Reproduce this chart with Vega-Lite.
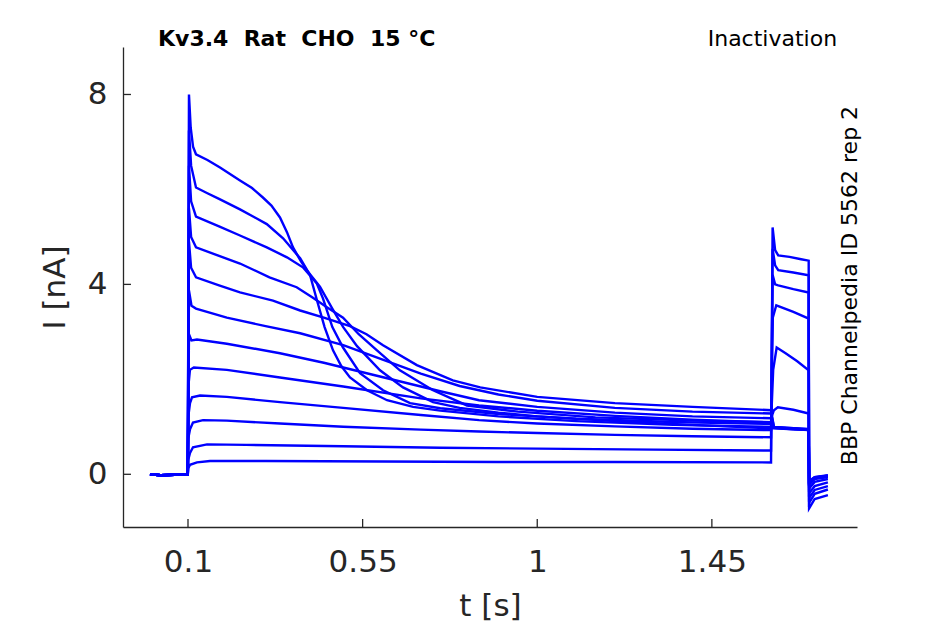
{
  "$schema": "https://vega.github.io/schema/vega-lite/v6.json",
  "width": 734,
  "height": 480,
  "autosize": {"type": "none"},
  "padding": {"left": 123, "top": 47, "right": 88, "bottom": 97},
  "background": "white",
  "config": {
    "view": {"stroke": null},
    "axis": {
      "grid": false,
      "ticks": false,
      "domainColor": "#262626",
      "domainWidth": 1.3,
      "labelColor": "#262626",
      "titleColor": "#262626",
      "labelFont": "DejaVu Sans",
      "titleFont": "DejaVu Sans",
      "labelFontSize": 31,
      "titleFontSize": 31,
      "titleFontWeight": "normal"
    }
  },
  "layer": [
    {
      "data": {
        "values": [
          {"k":1,"t":0.002,"I":0.0},{"k":1,"t":0.03,"I":-0.02},{"k":1,"t":0.065,"I":-0.01},{"k":1,"t":0.0995,"I":-0.01},
          {"k":1,"t":0.1025,"I":8.0},{"k":1,"t":0.107,"I":7.3},{"k":1,"t":0.113,"I":6.9},{"k":1,"t":0.1206,"I":6.74},
          {"k":1,"t":0.15,"I":6.62},{"k":1,"t":0.1825,"I":6.46},{"k":1,"t":0.234,"I":6.19},{"k":1,"t":0.265,"I":6.03},
          {"k":1,"t":0.293,"I":5.83},{"k":1,"t":0.315,"I":5.66},{"k":1,"t":0.337,"I":5.41},{"k":1,"t":0.355,"I":5.1},
          {"k":1,"t":0.3706,"I":4.78},{"k":1,"t":0.39,"I":4.5},{"k":1,"t":0.4067,"I":4.29},{"k":1,"t":0.44,"I":3.95},
          {"k":1,"t":0.4711,"I":3.5},{"k":1,"t":0.5,"I":3.1},{"k":1,"t":0.5356,"I":2.7},{"k":1,"t":0.5948,"I":2.19},
          {"k":1,"t":0.6541,"I":1.83},{"k":1,"t":0.7314,"I":1.52},{"k":1,"t":0.8,"I":1.4},{"k":1,"t":0.9,"I":1.3},
          {"k":1,"t":1.0,"I":1.22},{"k":1,"t":1.2,"I":1.12},{"k":1,"t":1.4,"I":1.04},{"k":1,"t":1.6025,"I":0.97},
          {"k":1,"t":1.61,"I":0.97},{"k":1,"t":1.66,"I":0.95},{"k":1,"t":1.6995,"I":0.93},{"k":1,"t":1.7005,"I":-0.14},
          {"k":1,"t":1.715,"I":-0.06},{"k":1,"t":1.749,"I":-0.03},

          {"k":2,"t":0.002,"I":0.0},{"k":2,"t":0.03,"I":-0.02},{"k":2,"t":0.065,"I":-0.01},{"k":2,"t":0.0995,"I":-0.01},
          {"k":2,"t":0.1025,"I":7.24},{"k":2,"t":0.108,"I":6.5},{"k":2,"t":0.1206,"I":6.04},{"k":2,"t":0.15,"I":5.92},
          {"k":2,"t":0.18,"I":5.8},{"k":2,"t":0.234,"I":5.58},{"k":2,"t":0.27,"I":5.42},{"k":2,"t":0.303,"I":5.27},
          {"k":2,"t":0.345,"I":4.97},{"k":2,"t":0.389,"I":4.55},{"k":2,"t":0.4144,"I":4.2},{"k":2,"t":0.4325,"I":3.66},
          {"k":2,"t":0.452,"I":3.1},{"k":2,"t":0.4737,"I":2.61},{"k":2,"t":0.495,"I":2.28},{"k":2,"t":0.5175,"I":2.04},
          {"k":2,"t":0.5613,"I":1.77},{"k":2,"t":0.6129,"I":1.56},{"k":2,"t":0.68,"I":1.42},{"k":2,"t":0.75,"I":1.34},
          {"k":2,"t":0.9,"I":1.22},{"k":2,"t":1.1,"I":1.12},{"k":2,"t":1.35,"I":1.04},{"k":2,"t":1.6025,"I":1.0},
          {"k":2,"t":1.61,"I":0.98},{"k":2,"t":1.66,"I":0.95},{"k":2,"t":1.6995,"I":0.94},{"k":2,"t":1.7005,"I":-0.16},
          {"k":2,"t":1.715,"I":-0.07},{"k":2,"t":1.749,"I":-0.04},

          {"k":3,"t":0.002,"I":0.0},{"k":3,"t":0.03,"I":-0.02},{"k":3,"t":0.065,"I":-0.01},{"k":3,"t":0.0995,"I":-0.01},
          {"k":3,"t":0.1025,"I":6.5},{"k":3,"t":0.108,"I":5.75},{"k":3,"t":0.1206,"I":5.43},{"k":3,"t":0.18,"I":5.22},
          {"k":3,"t":0.234,"I":5.03},{"k":3,"t":0.303,"I":4.78},{"k":3,"t":0.355,"I":4.57},{"k":3,"t":0.396,"I":4.36},
          {"k":3,"t":0.432,"I":4.02},{"k":3,"t":0.448,"I":3.7},{"k":3,"t":0.472,"I":3.1},{"k":3,"t":0.4995,"I":2.67},
          {"k":3,"t":0.5433,"I":2.13},{"k":3,"t":0.6026,"I":1.77},{"k":3,"t":0.6722,"I":1.5},{"k":3,"t":0.75,"I":1.39},
          {"k":3,"t":0.9,"I":1.27},{"k":3,"t":1.1,"I":1.17},{"k":3,"t":1.35,"I":1.1},{"k":3,"t":1.6025,"I":1.06},
          {"k":3,"t":1.61,"I":0.99},{"k":3,"t":1.66,"I":0.96},{"k":3,"t":1.6995,"I":0.94},{"k":3,"t":1.7005,"I":-0.17},
          {"k":3,"t":1.715,"I":-0.07},{"k":3,"t":1.749,"I":-0.03},

          {"k":4,"t":0.002,"I":0.0},{"k":4,"t":0.03,"I":-0.02},{"k":4,"t":0.065,"I":-0.01},{"k":4,"t":0.0995,"I":-0.01},
          {"k":4,"t":0.1025,"I":5.6},{"k":4,"t":0.108,"I":5.0},{"k":4,"t":0.1206,"I":4.78},{"k":4,"t":0.18,"I":4.6},
          {"k":4,"t":0.234,"I":4.44},{"k":4,"t":0.31,"I":4.15},{"k":4,"t":0.38,"I":3.94},{"k":4,"t":0.42,"I":3.73},
          {"k":4,"t":0.458,"I":3.52},{"k":4,"t":0.4995,"I":3.3},{"k":4,"t":0.54,"I":2.95},{"k":4,"t":0.587,"I":2.61},
          {"k":4,"t":0.646,"I":2.19},{"k":4,"t":0.7314,"I":1.77},{"k":4,"t":0.819,"I":1.45},{"k":4,"t":0.95,"I":1.32},
          {"k":4,"t":1.15,"I":1.2},{"k":4,"t":1.4,"I":1.13},{"k":4,"t":1.6025,"I":1.1},
          {"k":4,"t":1.61,"I":0.98},{"k":4,"t":1.66,"I":0.96},{"k":4,"t":1.6995,"I":0.93},{"k":4,"t":1.7005,"I":-0.15},
          {"k":4,"t":1.715,"I":-0.06},{"k":4,"t":1.749,"I":-0.02},

          {"k":5,"t":0.002,"I":0.0},{"k":5,"t":0.03,"I":-0.02},{"k":5,"t":0.065,"I":-0.01},{"k":5,"t":0.0995,"I":-0.01},
          {"k":5,"t":0.1025,"I":4.9},{"k":5,"t":0.108,"I":4.35},{"k":5,"t":0.1206,"I":4.15},{"k":5,"t":0.18,"I":3.98},
          {"k":5,"t":0.234,"I":3.83},{"k":5,"t":0.319,"I":3.66},{"k":5,"t":0.389,"I":3.45},{"k":5,"t":0.45,"I":3.3},
          {"k":5,"t":0.5175,"I":3.12},{"k":5,"t":0.56,"I":2.95},{"k":5,"t":0.6026,"I":2.72},{"k":5,"t":0.6897,"I":2.3},
          {"k":5,"t":0.7825,"I":1.98},{"k":5,"t":0.853,"I":1.83},{"k":5,"t":1.0,"I":1.63},{"k":5,"t":1.2,"I":1.5},
          {"k":5,"t":1.4,"I":1.42},{"k":5,"t":1.6025,"I":1.35},
          {"k":5,"t":1.61,"I":0.99},{"k":5,"t":1.66,"I":0.97},{"k":5,"t":1.6995,"I":0.95},{"k":5,"t":1.7005,"I":-0.18},
          {"k":5,"t":1.715,"I":-0.08},{"k":5,"t":1.749,"I":-0.04},

          {"k":6,"t":0.002,"I":0.0},{"k":6,"t":0.03,"I":-0.02},{"k":6,"t":0.065,"I":-0.01},{"k":6,"t":0.0995,"I":-0.01},
          {"k":6,"t":0.1025,"I":3.87},{"k":6,"t":0.109,"I":3.55},{"k":6,"t":0.1206,"I":3.49},{"k":6,"t":0.2,"I":3.3},
          {"k":6,"t":0.3,"I":3.12},{"k":6,"t":0.389,"I":2.97},{"k":6,"t":0.5,"I":2.72},{"k":6,"t":0.6,"I":2.42},
          {"k":6,"t":0.7,"I":2.12},{"k":6,"t":0.8,"I":1.86},{"k":6,"t":0.9,"I":1.68},{"k":6,"t":1.0,"I":1.55},
          {"k":6,"t":1.2,"I":1.4},{"k":6,"t":1.4,"I":1.32},{"k":6,"t":1.6025,"I":1.28},
          {"k":6,"t":1.61,"I":1.0},{"k":6,"t":1.66,"I":0.97},{"k":6,"t":1.6995,"I":0.95},{"k":6,"t":1.7005,"I":-0.19},
          {"k":6,"t":1.715,"I":-0.08},{"k":6,"t":1.749,"I":-0.05},

          {"k":7,"t":0.002,"I":0.0},{"k":7,"t":0.03,"I":-0.02},{"k":7,"t":0.065,"I":-0.01},{"k":7,"t":0.0995,"I":-0.01},
          {"k":7,"t":0.1025,"I":2.95},{"k":7,"t":0.109,"I":2.82},{"k":7,"t":0.1232,"I":2.84},{"k":7,"t":0.2,"I":2.75},
          {"k":7,"t":0.337,"I":2.55},{"k":7,"t":0.45,"I":2.35},{"k":7,"t":0.6,"I":2.05},{"k":7,"t":0.75,"I":1.75},
          {"k":7,"t":0.85,"I":1.56},{"k":7,"t":1.0,"I":1.42},{"k":7,"t":1.2,"I":1.3},{"k":7,"t":1.4,"I":1.22},
          {"k":7,"t":1.6025,"I":1.18},{"k":7,"t":1.61,"I":1.35},{"k":7,"t":1.62,"I":1.41},{"k":7,"t":1.66,"I":1.36},
          {"k":7,"t":1.6995,"I":1.28},{"k":7,"t":1.7005,"I":-0.22},{"k":7,"t":1.715,"I":-0.1},{"k":7,"t":1.749,"I":-0.06},

          {"k":8,"t":0.002,"I":0.0},{"k":8,"t":0.03,"I":-0.02},{"k":8,"t":0.065,"I":-0.01},{"k":8,"t":0.0995,"I":-0.01},
          {"k":8,"t":0.1015,"I":1.9},{"k":8,"t":0.105,"I":2.2},{"k":8,"t":0.115,"I":2.25},{"k":8,"t":0.2,"I":2.2},
          {"k":8,"t":0.337,"I":2.04},{"k":8,"t":0.5,"I":1.85},{"k":8,"t":0.7,"I":1.6},{"k":8,"t":0.85,"I":1.45},
          {"k":8,"t":1.0,"I":1.34},{"k":8,"t":1.2,"I":1.23},{"k":8,"t":1.4,"I":1.15},{"k":8,"t":1.6025,"I":1.09},
          {"k":8,"t":1.608,"I":2.2},{"k":8,"t":1.617,"I":2.67},{"k":8,"t":1.64,"I":2.55},{"k":8,"t":1.67,"I":2.38},
          {"k":8,"t":1.6995,"I":2.19},{"k":8,"t":1.7005,"I":-0.3},{"k":8,"t":1.715,"I":-0.16},{"k":8,"t":1.749,"I":-0.1},

          {"k":9,"t":0.002,"I":0.0},{"k":9,"t":0.03,"I":-0.02},{"k":9,"t":0.065,"I":-0.01},{"k":9,"t":0.0995,"I":-0.01},
          {"k":9,"t":0.1005,"I":1.2},{"k":9,"t":0.1052,"I":1.5},{"k":9,"t":0.1103,"I":1.62},{"k":9,"t":0.131,"I":1.66},
          {"k":9,"t":0.2,"I":1.63},{"k":9,"t":0.337,"I":1.52},{"k":9,"t":0.5,"I":1.4},{"k":9,"t":0.7,"I":1.25},
          {"k":9,"t":0.85,"I":1.14},{"k":9,"t":1.0,"I":1.07},{"k":9,"t":1.2,"I":1.01},{"k":9,"t":1.4,"I":0.96},
          {"k":9,"t":1.6025,"I":0.93},{"k":9,"t":1.607,"I":3.3},{"k":9,"t":1.616,"I":3.56},{"k":9,"t":1.66,"I":3.42},
          {"k":9,"t":1.6995,"I":3.28},{"k":9,"t":1.7005,"I":-0.4},{"k":9,"t":1.715,"I":-0.25},{"k":9,"t":1.749,"I":-0.17},

          {"k":10,"t":0.002,"I":0.0},{"k":10,"t":0.03,"I":-0.02},{"k":10,"t":0.065,"I":-0.01},{"k":10,"t":0.0995,"I":-0.01},
          {"k":10,"t":0.1005,"I":0.75},{"k":10,"t":0.1052,"I":0.95},{"k":10,"t":0.1129,"I":1.09},{"k":10,"t":0.1387,"I":1.14},
          {"k":10,"t":0.2,"I":1.13},{"k":10,"t":0.337,"I":1.07},{"k":10,"t":0.5,"I":1.0},{"k":10,"t":0.7,"I":0.94},
          {"k":10,"t":0.85,"I":0.9},{"k":10,"t":1.0,"I":0.87},{"k":10,"t":1.2,"I":0.83},{"k":10,"t":1.4,"I":0.8},
          {"k":10,"t":1.6025,"I":0.78},{"k":10,"t":1.6065,"I":4.2},{"k":10,"t":1.613,"I":4.0},{"k":10,"t":1.621,"I":3.98},
          {"k":10,"t":1.66,"I":3.9},{"k":10,"t":1.6995,"I":3.83},{"k":10,"t":1.7005,"I":-0.5},{"k":10,"t":1.715,"I":-0.33},
          {"k":10,"t":1.749,"I":-0.25},

          {"k":11,"t":0.002,"I":0.0},{"k":11,"t":0.03,"I":-0.02},{"k":11,"t":0.065,"I":-0.01},{"k":11,"t":0.0995,"I":-0.01},
          {"k":11,"t":0.1005,"I":0.3},{"k":11,"t":0.1052,"I":0.45},{"k":11,"t":0.1129,"I":0.57},{"k":11,"t":0.149,"I":0.63},
          {"k":11,"t":0.25,"I":0.62},{"k":11,"t":0.5,"I":0.59},{"k":11,"t":0.75,"I":0.56},{"k":11,"t":1.0,"I":0.54},
          {"k":11,"t":1.3,"I":0.52},{"k":11,"t":1.6025,"I":0.5},{"k":11,"t":1.6065,"I":4.75},{"k":11,"t":1.613,"I":4.4},
          {"k":11,"t":1.621,"I":4.3},{"k":11,"t":1.66,"I":4.25},{"k":11,"t":1.6995,"I":4.19},{"k":11,"t":1.7005,"I":-0.6},
          {"k":11,"t":1.715,"I":-0.41},{"k":11,"t":1.749,"I":-0.32},

          {"k":12,"t":0.002,"I":0.0},{"k":12,"t":0.03,"I":-0.02},{"k":12,"t":0.065,"I":-0.01},{"k":12,"t":0.0995,"I":-0.01},
          {"k":12,"t":0.1005,"I":0.12},{"k":12,"t":0.1052,"I":0.2},{"k":12,"t":0.1232,"I":0.25},{"k":12,"t":0.1567,"I":0.28},
          {"k":12,"t":0.3,"I":0.28},{"k":12,"t":0.6,"I":0.27},{"k":12,"t":0.9,"I":0.26},{"k":12,"t":1.2,"I":0.26},
          {"k":12,"t":1.6025,"I":0.25},{"k":12,"t":1.6065,"I":5.2},{"k":12,"t":1.613,"I":4.72},{"k":12,"t":1.621,"I":4.61},
          {"k":12,"t":1.65,"I":4.58},{"k":12,"t":1.68,"I":4.53},{"k":12,"t":1.6995,"I":4.5},{"k":12,"t":1.7005,"I":-0.72},
          {"k":12,"t":1.715,"I":-0.52},{"k":12,"t":1.749,"I":-0.44}
        ]
      },
      "mark": {"type": "line", "color": "#0000ff", "strokeWidth": 2.4},
      "encoding": {
        "x": {
          "field": "t",
          "type": "quantitative",
          "scale": {"domain": [-0.0675, 1.824], "nice": false, "zero": false},
          "axis": {
            "values": [0.1, 0.55, 1, 1.45],
            "format": ".3~g",
            "labelBaseline": "alphabetic",
            "labelPadding": 44.5,
            "title": "t [s]",
            "titleX": 367,
            "titleY": 88,
            "titleAlign": "center",
            "titleBaseline": "alphabetic"
          }
        },
        "y": {
          "field": "I",
          "type": "quantitative",
          "scale": {"domain": [-1.11, 9.0], "nice": false, "zero": false},
          "axis": {
            "values": [0, 4, 8],
            "labelPadding": 16,
            "title": "I [nA]",
            "titleX": -59,
            "titleY": 240,
            "titleAngle": -90,
            "titleAlign": "center",
            "titleBaseline": "alphabetic"
          }
        },
        "detail": {"field": "k", "type": "nominal"}
      }
    },
    {
      "data": {"values": [{"t": 0.1}, {"t": 0.55}, {"t": 1}, {"t": 1.45}]},
      "mark": {"type": "rule", "color": "#262626", "strokeWidth": 1.3},
      "encoding": {
        "x": {"field": "t", "type": "quantitative"},
        "y": {"datum": -1.11, "type": "quantitative"},
        "y2": {"datum": -0.942}
      }
    },
    {
      "data": {"values": [{"I": 0}, {"I": 4}, {"I": 8}]},
      "mark": {"type": "rule", "color": "#262626", "strokeWidth": 1.3},
      "encoding": {
        "y": {"field": "I", "type": "quantitative"},
        "x": {"datum": -0.0675, "type": "quantitative"},
        "x2": {"datum": -0.047}
      }
    },
    {
      "data": {"values": [{"label": "Kv3.4\u00a0\u00a0Rat\u00a0\u00a0CHO\u00a0\u00a015\u00a0°C"}]},
      "mark": {"type": "text", "align": "left", "baseline": "alphabetic", "font": "DejaVu Sans", "fontSize": 22, "fontWeight": "bold", "color": "#000000"},
      "encoding": {
        "x": {"datum": 0.0227, "type": "quantitative"},
        "y": {"datum": 9.02, "type": "quantitative"},
        "text": {"field": "label"}
      }
    },
    {
      "data": {"values": [{"label": "Inactivation"}]},
      "mark": {"type": "text", "align": "right", "baseline": "alphabetic", "font": "DejaVu Sans", "fontSize": 22, "color": "#000000"},
      "encoding": {
        "x": {"datum": 1.7727, "type": "quantitative"},
        "y": {"datum": 9.02, "type": "quantitative"},
        "text": {"field": "label"}
      }
    },
    {
      "data": {"values": [{"label": "BBP Channelpedia ID 5562 rep 2"}]},
      "mark": {"type": "text", "align": "center", "baseline": "alphabetic", "angle": 270, "font": "DejaVu Sans", "fontSize": 22, "color": "#000000"},
      "encoding": {
        "x": {"datum": 1.824, "type": "quantitative"},
        "y": {"datum": 3.976, "type": "quantitative"},
        "text": {"field": "label"}
      }
    }
  ]
}
